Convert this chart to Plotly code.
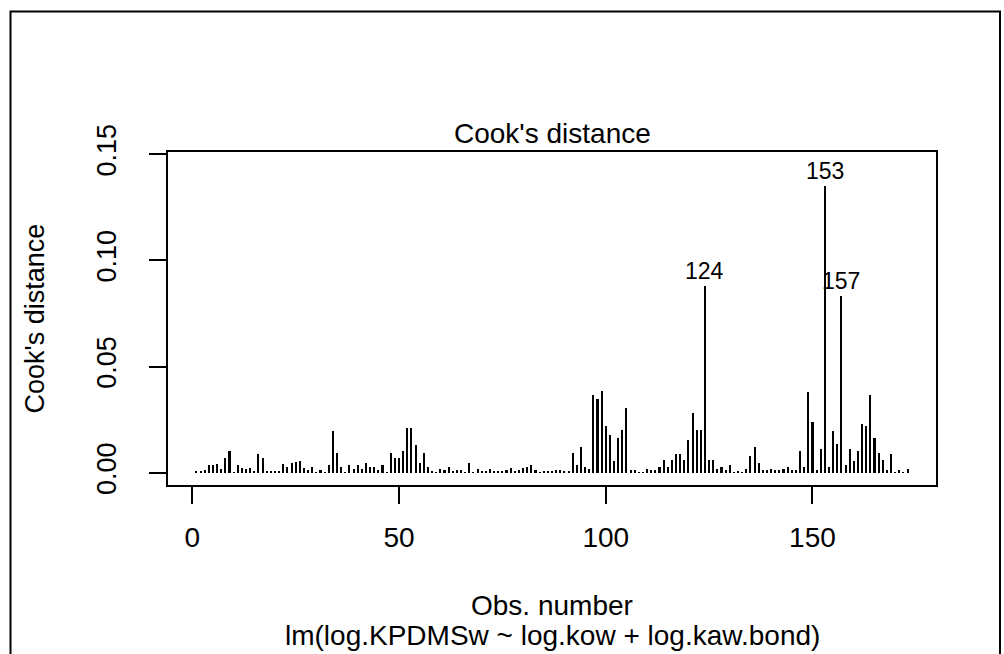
import plotly.graph_objects as go

# Cook's distance for each observation of the fitted model
cooks_d = [
    0.0005, 0.0005, 0.0012, 0.0034, 0.0036, 0.0042, 0.0019, 0.0070, 0.0104, 0.0003,
    0.0035, 0.0020, 0.0015, 0.0020, 0.0010, 0.0087, 0.0070, 0.0008, 0.0010, 0.0010,
    0.0010, 0.0040, 0.0028, 0.0044, 0.0050, 0.0053, 0.0020, 0.0013, 0.0027, 0.0003,
    0.0011, 0.0003, 0.0034, 0.0196, 0.0094, 0.0027, 0.0003, 0.0036, 0.0019, 0.0036,
    0.0019, 0.0044, 0.0027, 0.0027, 0.0011, 0.0036, 0.0003, 0.0095, 0.0069, 0.0069,
    0.0104, 0.0211, 0.0211, 0.0128, 0.0044, 0.0094, 0.0026, 0.0010, 0.0003, 0.0018,
    0.0012, 0.0027, 0.0004, 0.0011, 0.0011, 0.0003, 0.0045, 0.0003, 0.0017, 0.0005,
    0.0008, 0.0019, 0.0005, 0.0005, 0.0005, 0.0014, 0.0020, 0.0005, 0.0011, 0.0020,
    0.0028, 0.0036, 0.0011, 0.0002, 0.0008, 0.0005, 0.0004, 0.0011, 0.0011, 0.0004,
    0.0004, 0.0094, 0.0037, 0.0121, 0.0027, 0.0019, 0.0364, 0.0347, 0.0387, 0.0221,
    0.0179, 0.0053, 0.0163, 0.0203, 0.0305, 0.0011, 0.0011, 0.0003, 0.0003, 0.0019,
    0.0011, 0.0011, 0.0027, 0.0061, 0.0028, 0.0061, 0.0086, 0.0086, 0.0061, 0.0153,
    0.0279, 0.0203, 0.0203, 0.0881, 0.0061, 0.0061, 0.0019, 0.0027, 0.0011, 0.0036,
    0.0003, 0.0010, 0.0003, 0.0019, 0.0077, 0.0121, 0.0045, 0.0011, 0.0011, 0.0019,
    0.0011, 0.0011, 0.0019, 0.0027, 0.0011, 0.0011, 0.0103, 0.0028, 0.0379, 0.0238,
    0.0011, 0.0111, 0.1351, 0.0027, 0.0196, 0.0136, 0.0831, 0.0036, 0.0111, 0.0053,
    0.0103, 0.0230, 0.0221, 0.0364, 0.0161, 0.0094, 0.0061, 0.0011, 0.0086, 0.0003,
    0.0011, 0.0003, 0.0019,
]
obs_number = list(range(1, len(cooks_d) + 1))

x_ticks = [0, 50, 100, 150]
y_ticks = [0.00, 0.05, 0.10, 0.15]
y_tick_text = ["0.00", "0.05", "0.10", "0.15"]

main_title = "Cook's distance"
x_title = "Obs. number"
y_title = "Cook's distance"
model_caption = "lm(log.KPDMSw ~ log.kow + log.kaw.bond)"
n_labelled = 3

FONT = "Liberation Sans, Arial, Helvetica, sans-serif"
W, H = 1004, 654
L, R, T, B = 168, 68, 152, 169
pw, ph = W - L - R, H - T - B


def px_x(px):
    return (px - L) / pw


def px_y(py):
    return (H - B - py) / ph


n = len(cooks_d)
pad_x = 0.04 * (n - 1)
y_max = max(cooks_d) * 1.075
pad_y = 0.04 * y_max

fig = go.Figure()
fig.add_trace(go.Bar(
    x=obs_number, y=cooks_d, width=0.5,
    marker=dict(color="black", line=dict(width=0)),
    showlegend=False,
))

# label the most influential observations
top = sorted(range(n), key=lambda i: cooks_d[i], reverse=True)[:n_labelled]
for i in top:
    fig.add_annotation(
        x=obs_number[i], y=cooks_d[i], text=str(obs_number[i]),
        showarrow=False, yshift=15, font=dict(size=23, color="black", family=FONT),
        xanchor="center", yanchor="middle",
    )

wide_font = dict(size=28, color="black", family=FONT)
side_font = dict(size=27, color="black", family=FONT)
fig.add_annotation(xref="paper", yref="paper", x=0.5, y=px_y(133), text=main_title,
                   showarrow=False, font=wide_font, xanchor="center", yanchor="middle")
fig.add_annotation(xref="paper", yref="paper", x=0.5, y=px_y(605), text=x_title,
                   showarrow=False, font=wide_font, xanchor="center", yanchor="middle")
fig.add_annotation(xref="paper", yref="paper", x=0.5, y=px_y(635), text=model_caption,
                   showarrow=False, font=wide_font, xanchor="center", yanchor="middle")
fig.add_annotation(xref="paper", yref="paper", x=px_x(34), y=0.5, text=y_title,
                   textangle=-90, showarrow=False, font=side_font,
                   xanchor="center", yanchor="middle")

# outer frame around the device
fig.add_shape(type="rect", xref="paper", yref="paper",
              x0=px_x(10.5), x1=px_x(1000), y0=px_y(670), y1=px_y(11.5),
              line=dict(color="black", width=2), fillcolor="rgba(0,0,0,0)", layer="above")

axis_common = dict(
    showgrid=False, zeroline=False, showline=True, mirror=True,
    linecolor="black", linewidth=2, ticks="outside", ticklen=17, tickwidth=2,
    tickcolor="black",
)
fig.update_layout(
    width=W, height=H,
    margin=dict(l=L, r=R, t=T, b=B, pad=0),
    paper_bgcolor="white", plot_bgcolor="white",
    bargap=0,
    xaxis=dict(range=[1 - pad_x, n + pad_x], tickvals=x_ticks, ticklabelstandoff=9,
               tickfont=wide_font, **axis_common),
    yaxis=dict(range=[-pad_y, y_max + pad_y], tickvals=y_ticks, ticktext=y_tick_text,
               tickangle=-90, ticklabelstandoff=22, tickfont=side_font, **axis_common),
)

fig.write_html("out.html")
